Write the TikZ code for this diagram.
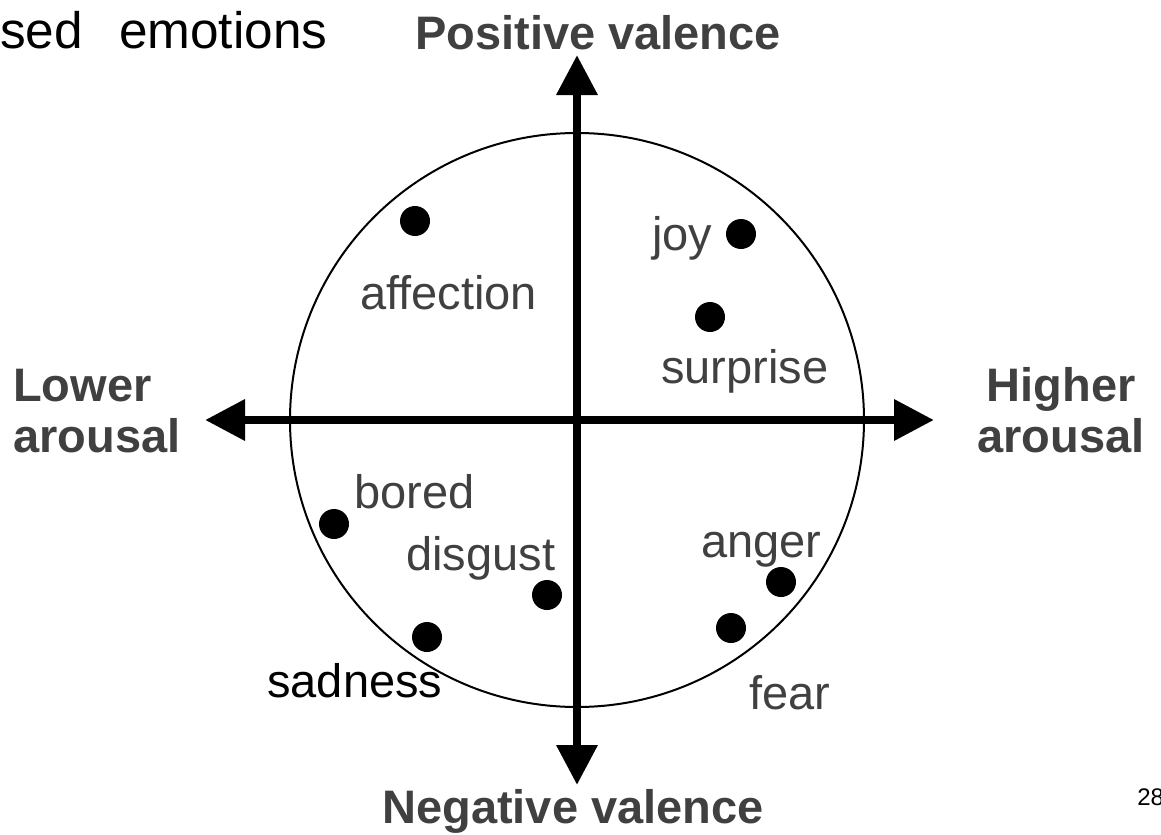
\documentclass[tikz,border=0pt]{standalone}
\usepackage{fontspec}
\setmainfont{Liberation Sans}
\usetikzlibrary{arrows.meta}
\definecolor{txtgray}{HTML}{404040}
\begin{document}
\begin{tikzpicture}[x=0.75pt,y=-0.75pt,
  dot/.style={circle,fill=black,inner sep=0pt,minimum size=22.5pt},
  emo/.style={anchor=base west,inner sep=0pt,font=\fontsize{35.25pt}{40pt}\selectfont,text=txtgray},
  axlab/.style={inner sep=0pt,font=\fontsize{35.25pt}{38.25pt}\selectfont\bfseries,text=txtgray},
  axis/.style={line width=6.5pt,{Triangle[length=30pt,width=29.5pt]}-{Triangle[length=30pt,width=29.5pt]}}]
\useasboundingbox (0,0) rectangle (1161,835);
% title and page number
\node[anchor=base west,inner sep=0pt,font=\fontsize{38.5pt}{44pt}\selectfont] (title) at (0,48) {sed\hspace{27pt}emotions};
\node[anchor=base west,inner sep=0pt,font=\fontsize{18pt}{20pt}\selectfont] (page) at (1137,805) {28};
% circle
\node[circle,draw,line width=1.5pt,minimum size=430.5pt,inner sep=0pt] (c) at (577,420) {};
% axes
\coordinate (top) at (577,55);
\coordinate (bot) at (577,785);
\coordinate (lft) at (205,420);
\coordinate (rgt) at (934,420);
\draw[axis] (bot) -- (top);
\draw[axis] (lft) -- (rgt);
% axis labels
\node[axlab,anchor=base] (pos) at (598,50) {Positive valence};
\node[axlab,anchor=base] (neg) at (573,823) {Negative valence};
\node[axlab,anchor=base west,align=left] (low1) at (13,401) {Lower};
\node[axlab,anchor=base west,align=left] (low2) at (13,452) {arousal};
\node[axlab,anchor=base] (high1) at (1061,401) {Higher};
\node[axlab,anchor=base] (high2) at (1061,452) {arousal};
% dots
\node[dot] (daff) at (415,221) {};
\node[dot] (djoy) at (741,234) {};
\node[dot] (dsur) at (710,317) {};
\node[dot] (dbor) at (334,524) {};
\node[dot] (ddis) at (547,595) {};
\node[dot] (dsad) at (427,637) {};
\node[dot] (dang) at (781,582) {};
\node[dot] (dfea) at (731,628) {};
% labels
\node[emo] (laff) at (360,309) {affection};
\node[emo] (ljoy) at (652,250) {joy};
\node[emo] (lsur) at (661,383) {surprise};
\node[emo] (lbor) at (354,508) {bored};
\node[emo] (ldis) at (406,570) {disgust};
\node[emo] (lang) at (701,557) {anger};
\node[emo,text=black] (lsad) at (267,697) {sadness};
\node[emo] (lfea) at (749,709) {fear};
\end{tikzpicture}
\end{document}
